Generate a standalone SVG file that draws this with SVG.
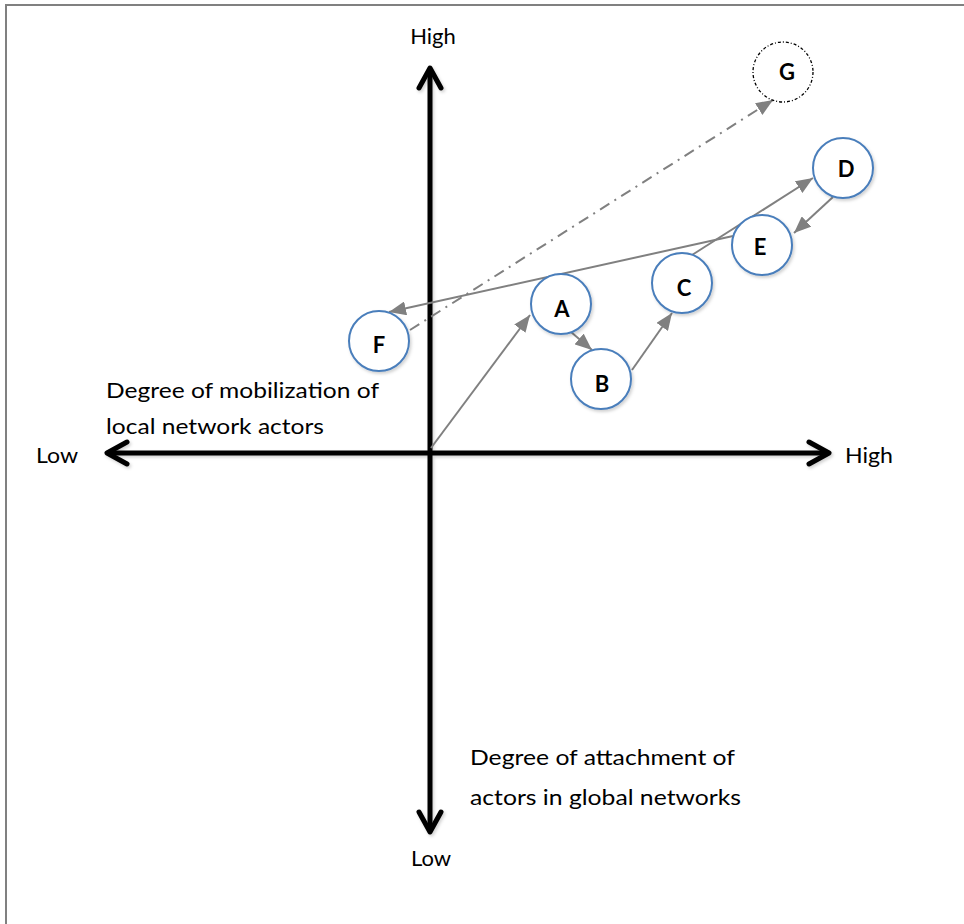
<svg xmlns="http://www.w3.org/2000/svg" width="964" height="924" viewBox="0 0 964 924">
<style>
  .lbl { font-family: "Lato", "Liberation Sans", sans-serif; font-size: 22px; fill: #000; }
  .node circle { fill: #fff; stroke: #4a7ebb; stroke-width: 2; filter: url(#shadow); }
  .node text { font-family: "Lato", "Liberation Sans", sans-serif; font-size: 22px; font-weight: bold; fill: #000; text-anchor: middle; }
  .axis { stroke: #000; stroke-width: 5; fill: none; stroke-linecap: round; stroke-linejoin: round; }
  .conn { stroke: #808080; stroke-width: 2; fill: none; marker-end: url(#ah); }
</style>
<defs>
  <filter id="shadow" filterUnits="userSpaceOnUse" x="0" y="0" width="964" height="924">
    <feDropShadow dx="1.5" dy="2" stdDeviation="1.5" flood-color="#000" flood-opacity="0.18"/>
  </filter>
  <marker id="ah" markerUnits="userSpaceOnUse" markerWidth="18" markerHeight="14" refX="17" refY="7" orient="auto">
    <path d="M0,0 L17,7 L0,14 z" fill="#808080"/>
  </marker>
</defs>
<rect x="6" y="5" width="970" height="930" fill="#fff" stroke="#808080" stroke-width="2"/>

<g id="axes" filter="url(#shadow)">
  <line class="axis" x1="430" y1="70" x2="430" y2="830"/>
  <polyline class="axis" points="419,88 430,68 441,88"/>
  <polyline class="axis" points="419,812 430,832 441,812"/>
  <line class="axis" x1="109" y1="453" x2="826" y2="453"/>
  <polyline class="axis" points="127,442 107,453 127,464"/>
  <polyline class="axis" points="809,442 829,453 809,464"/>
</g>

<g id="labels">
  <text class="lbl" x="433" y="44" text-anchor="middle">High</text>
  <text class="lbl" x="36" y="463" textLength="42" lengthAdjust="spacingAndGlyphs">Low</text>
  <text class="lbl" x="845" y="463" textLength="48" lengthAdjust="spacingAndGlyphs">High</text>
  <text class="lbl" x="431" y="866" text-anchor="middle">Low</text>
  <text class="lbl" x="106" y="398" textLength="273" lengthAdjust="spacingAndGlyphs">Degree of mobilization of</text>
  <text class="lbl" x="106" y="434" textLength="218" lengthAdjust="spacingAndGlyphs">local network actors</text>
  <text class="lbl" x="470" y="765" textLength="265" lengthAdjust="spacingAndGlyphs">Degree of attachment of</text>
  <text class="lbl" x="470" y="805" textLength="271" lengthAdjust="spacingAndGlyphs">actors in global networks</text>
</g>

<g id="connectors">
  <line class="conn" x1="431" y1="448" x2="530" y2="315"/>
  <line class="conn" x1="571" y1="332" x2="592" y2="350"/>
  <line class="conn" x1="632" y1="370" x2="672" y2="313"/>
  <line class="conn" x1="692" y1="255" x2="813" y2="178"/>
  <line class="conn" x1="833" y1="197" x2="794" y2="233"/>
  <line class="conn" x1="733" y1="236" x2="389" y2="312"/>
  <line class="conn" x1="410" y1="330" x2="773" y2="100" stroke-dasharray="11 6 2 6"/>
</g>

<g id="node-A" class="node"><circle cx="561" cy="304" r="30"/><text x="562" y="317">A</text></g>
<g id="node-B" class="node"><circle cx="601" cy="379" r="30"/><text x="602" y="392">B</text></g>
<g id="node-C" class="node"><circle cx="682" cy="283" r="30"/><text x="684" y="296">C</text></g>
<g id="node-D" class="node"><circle cx="843" cy="168" r="30"/><text x="846" y="177">D</text></g>
<g id="node-E" class="node"><circle cx="762" cy="245" r="30"/><text x="760" y="255">E</text></g>
<g id="node-F" class="node"><circle cx="379" cy="341" r="30"/><text x="379" y="353">F</text></g>
<g id="node-G"><circle cx="783" cy="72" r="30" fill="#fff" stroke="#000" stroke-width="1.3" stroke-dasharray="3 2 1 2"/><text x="787" y="80" style="font-family: 'Lato','Liberation Sans',sans-serif; font-size:22px; font-weight:bold; text-anchor:middle">G</text></g>
</svg>
